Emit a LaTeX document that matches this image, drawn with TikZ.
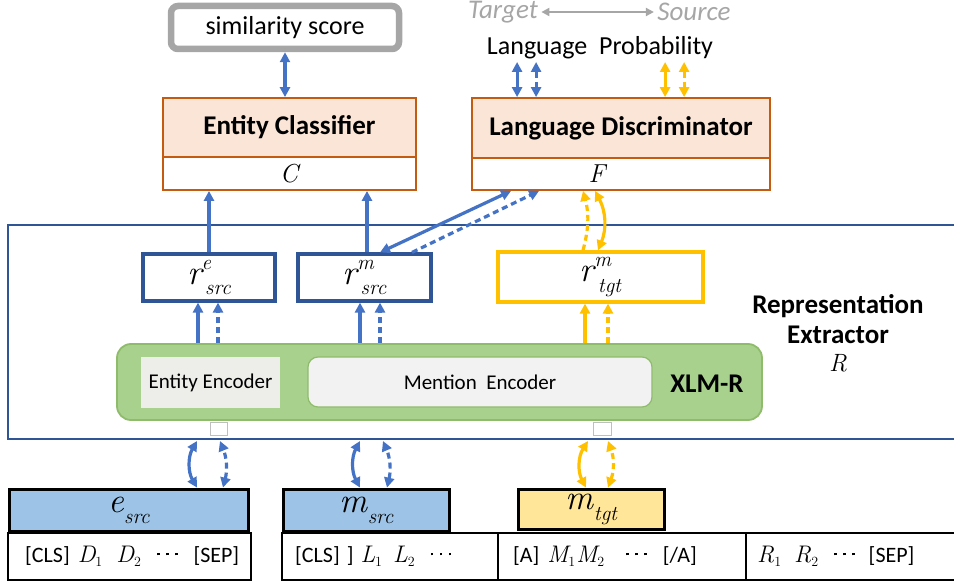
\documentclass[tikz,border=0pt]{standalone}
\usepackage{fontspec}
\setmainfont{Carlito}
\newfontfamily\lmr{Latin Modern Roman}
\usetikzlibrary{arrows.meta,calc}
\definecolor{cblue}{HTML}{4472C4}
\definecolor{cdark}{HTML}{2F5597}
\definecolor{corange}{HTML}{C55A11}
\definecolor{cpeach}{HTML}{FBE5D6}
\definecolor{cgray}{HTML}{A6A6A6}
\definecolor{cgreen}{HTML}{A9D18E}
\definecolor{cgreenline}{HTML}{8FBC6B}
\definecolor{cyellow}{HTML}{FFC000}
\definecolor{cinblue}{HTML}{9DC3E6}
\definecolor{cinyellow}{HTML}{FFE699}
\definecolor{cenc}{HTML}{EDEEEA}
\definecolor{cme}{HTML}{F2F2F2}
% big italic letter with superscript and subscript
\newcommand\SupSub[3]{{\lmr\itshape #1}\makebox[0pt][l]{\raisebox{0.42em}{\fontsize{21}{23}\selectfont\lmr\itshape #2}}\raisebox{-0.3em}{\fontsize{21}{23}\selectfont\lmr\itshape\,#3}}
\newcommand\LetSub[2]{{\lmr\itshape #1}\raisebox{-0.32em}{\fontsize{21}{23}\selectfont\lmr\itshape #2}}
\newcommand\Tk[2]{{\fontsize{24}{26}\selectfont\lmr\itshape #1}\raisebox{-0.2em}{\fontsize{14}{16}\selectfont\lmr #2}}
\newcommand\OneDot{\raisebox{6.5pt}{\rule{2.6pt}{2.6pt}}}
\newcommand\Dots{\OneDot\kern6.4pt\OneDot\kern6.4pt\OneDot}
\newcommand\gap[1]{\hspace*{#1pt}}
\begin{document}
\begin{tikzpicture}[x=1pt,y=-1pt,
  >={Triangle[length=10pt,width=10pt]},
  big/.style={font=\fontsize{26}{30}\selectfont},
  bigb/.style={font=\fontsize{27}{30}\selectfont\bfseries},
  mid/.style={font=\fontsize{21}{25}\selectfont},
  tok/.style={font=\fontsize{22}{26}\selectfont,anchor=west,inner sep=0pt},
  mathbig/.style={font=\fontsize{35}{38}\selectfont},
  simbox/.style={draw=cgray,line width=6.5pt,rounded corners=7pt,fill=white,inner sep=0pt,big},
  clstop/.style={draw=corange,line width=1.8pt,fill=cpeach,inner sep=0pt,bigb},
  clsbot/.style={draw=corange,line width=1.8pt,fill=white,inner sep=0pt},
  rbox/.style={draw=cdark,line width=3.2pt,fill=white,inner sep=0pt,mathbig},
  ybox/.style={draw=cyellow,line width=3.2pt,fill=white,inner sep=0pt,mathbig},
  inbox/.style={draw=black,line width=3.8pt,inner sep=0pt,mathbig},
  tokbox/.style={draw=black,line width=1.4pt,fill=white,inner sep=0pt},
  barr/.style={draw=cblue,line width=3.2pt},
  yarr/.style={draw=cyellow,line width=3.2pt},
  dsh/.style={dash pattern=on 6pt off 4pt},
  sq/.style={draw=black!25,fill=white,line width=1pt,inner sep=0pt}
]
\useasboundingbox (0,0) rectangle (954,586);

% top
\node[simbox,minimum width=228pt,minimum height=43pt] (sim) at (285,27.5) {similarity score};
\node[clstop,minimum width=253pt,minimum height=59pt] (ECtop) at (289.5,127.5) {Entity Classifier};
\node[clsbot,minimum width=253pt,minimum height=33pt] (ECbot) at (289.5,173.5) {};
\node[font=\fontsize{26}{28}\selectfont\lmr\itshape] (Cl) at (289,173.5) {C};
\node[clstop,minimum width=298pt,minimum height=60pt] (LDtop) at (621,128) {Language Discriminator};
\node[clsbot,minimum width=298pt,minimum height=32pt] (LDbot) at (621,174) {};
\node[font=\fontsize{26}{28}\selectfont\lmr\itshape] (Fl) at (597,174) {F};

\node[text=cgray,font=\fontsize{27}{30}\selectfont\itshape] (tgt) at (503,12) {Target};
\node[text=cgray,font=\fontsize{27}{30}\selectfont\itshape] (srcl) at (694,12) {Source};
\draw[draw=cgray,line width=2.6pt,{Triangle[length=8pt,width=8pt]}-{Triangle[length=8pt,width=8pt]}] (tgt.east) -- (srcl.west);
\node[big] (LP) at (600,48) {Language\ \ Probability};
\coordinate (lpy) at (0,62);

% frame
\draw[draw=cdark,line width=1.8pt] (954,225) -- (8,225) -- (8,439) -- (954,439);
\coordinate (fb) at (0,441);

% representation boxes
\node[rbox,minimum width=132pt,minimum height=47pt] (re) at (209,277.5) {\SupSub{r}{e}{src}};
\node[rbox,minimum width=133pt,minimum height=47pt] (rms) at (364.5,277.5) {\SupSub{r}{m}{src}};
\node[ybox,minimum width=205pt,minimum height=50pt] (rmt) at (600.5,277) {\SupSub{r}{m}{tgt}};

% XLM-R
\node[draw=cgreenline,fill=cgreen,line width=1.8pt,rounded corners=14pt,minimum width=645pt,minimum height=76pt] (xlm) at (439.5,382) {};
\node[fill=cenc,minimum width=139pt,minimum height=51pt,inner sep=0pt,mid] (EE) at (210.5,382.5) {Entity Encoder};
\node[fill=cme,draw=cgreenline,line width=1.2pt,rounded corners=10pt,minimum width=344pt,minimum height=50pt,inner sep=0pt,mid] (ME) at (480,382) {Mention\ \ Encoder};
\node[bigb] (XL) at (707,384) {XLM-R};
\node[sq,minimum width=17pt,minimum height=13pt] (sq1) at (218.5,428.5) {};
\node[sq,minimum width=18pt,minimum height=13pt] (sq2) at (602,428.5) {};

\node[align=center,font=\fontsize{27}{30}\selectfont\bfseries] (RE) at (838,333) {Representation\\Extractor\\[-2pt]{\fontsize{25}{28}\selectfont\lmr\mdseries\itshape R}};

% token row
\node[tokbox,minimum width=243pt,minimum height=47pt] (tk1) at (129.5,556.5) {};
\node[tokbox,minimum width=216pt,minimum height=47pt] (tk2) at (390,556.5) {};
\node[tokbox,minimum width=248pt,minimum height=47pt] (tk3) at (622,556.5) {};
\node[tokbox,minimum width=209pt,minimum height=47pt] (tk4) at (850.5,556.5) {};
\node[tok] (t1) at (25,556) {[CLS]\gap{8}\Tk{D}{1}\gap{14}\Tk{D}{2}\gap{16}\Dots\gap{16}[SEP]};
\node[tok] (t2) at (295,556) {[CLS]\gap{7}]\gap{7}\Tk{L}{1}\gap{11}\Tk{L}{2}\gap{16}\Dots};
\node[tok] (t3) at (513,556) {[A]\gap{8}\Tk{M}{1}\gap{1}\Tk{M}{2}\gap{22}\Dots\gap{16}[/A]};
\node[tok] (t4) at (757,556) {\Tk{R}{1}\gap{13}\Tk{R}{2}\gap{16}\Dots\gap{14}[SEP]};

% input boxes
\node[inbox,fill=cinblue,minimum width=239pt,minimum height=42pt] (esrc) at (129,510.5) {\LetSub{e}{src}};
\node[inbox,fill=cinblue,minimum width=166pt,minimum height=42pt] (msrc) at (366.5,510.5) {\LetSub{m}{src}};
\node[inbox,fill=cinyellow,minimum width=146pt,minimum height=40pt] (mtgt) at (591.5,509.5) {\LetSub{m}{tgt}};

% arrows top
\draw[barr,<->] (sim.south) -- (sim.south |- ECtop.north);
\coordinate (a1) at ($(LDtop.north west)+(46,0)$);
\coordinate (a2) at ($(LDtop.north west)+(65,0)$);
\coordinate (a3) at ($(LDtop.north west)+(194,0)$);
\coordinate (a4) at ($(LDtop.north west)+(213,0)$);
\draw[barr,<->] (a1) -- (a1 |- lpy);
\draw[barr,dsh,<->] (a2) -- (a2 |- lpy);
\draw[yarr,<->] (a3) -- (a3 |- lpy);
\draw[yarr,dsh,<->] (a4) -- (a4 |- lpy);

% r boxes to classifiers
\draw[barr,->] (re.north) -- (re.north |- ECbot.south);
\draw[barr,->] ($(rms.north)+(2.5,0)$) -- ($(rms.north |- ECbot.south)+(2.5,0)$);
\draw[barr,<->] ($(rms.north)+(15.5,0)$) -- ($(LDbot.south west)+(40,0)$);
\draw[barr,dsh,->] ($(rms.north)+(47.5,0)$) -- ($(LDbot.south west)+(68,0)$);
\draw[yarr,dsh,->] ($(rmt.north)+(-17.5,0)$) to[bend right=15] ($(LDbot.south)+(-38,0)$);
\draw[yarr,<->] ($(rmt.north)+(-2.5,0)$) to[bend right=25] ($(LDbot.south)+(-26,0)$);

% XLM-R to r boxes
\coordinate (u1) at ($(re.south)+(-11,0)$);
\coordinate (u2) at ($(re.south)+(9,0)$);
\coordinate (u3) at ($(rms.south)+(-4.5,0)$);
\coordinate (u4) at ($(rms.south)+(15.5,0)$);
\coordinate (u5) at ($(rmt.south)+(-15.5,0)$);
\coordinate (u6) at ($(rmt.south)+(7.5,0)$);
\draw[barr,->] (u1 |- xlm.north) -- (u1);
\draw[barr,dsh,->] (u2 |- xlm.north) -- (u2);
\draw[barr,->] (u3 |- xlm.north) -- (u3);
\draw[barr,dsh,->] (u4 |- xlm.north) -- (u4);
\draw[yarr,->] (u5 |- xlm.north) -- (u5);
\draw[yarr,dsh,->] (u6 |- xlm.north) -- (u6);

% inputs to extractor
\draw[barr,<->] ($(esrc.north)+(68,0)$) to[bend left=30] ($(esrc.north |- fb)+(68,0)$);
\draw[barr,dsh,<->] ($(esrc.north)+(94,0)$) to[bend right=18] ($(esrc.north |- fb)+(91,0)$);
\draw[barr,<->] ($(msrc.north)+(-6.5,0)$) to[bend left=28] ($(msrc.north |- fb)+(-6.5,0)$);
\draw[barr,dsh,<->] ($(msrc.north)+(20.5,0)$) to[bend right=18] ($(msrc.north |- fb)+(16.5,0)$);
\draw[yarr,<->] ($(mtgt.north)+(-5.5,0)$) to[bend left=30] ($(mtgt.north |- fb)+(-3.5,0)$);
\draw[yarr,dsh,<->] ($(mtgt.north)+(16.5,0)$) to[bend right=20] ($(mtgt.north |- fb)+(16.5,0)$);
\end{tikzpicture}
\end{document}
